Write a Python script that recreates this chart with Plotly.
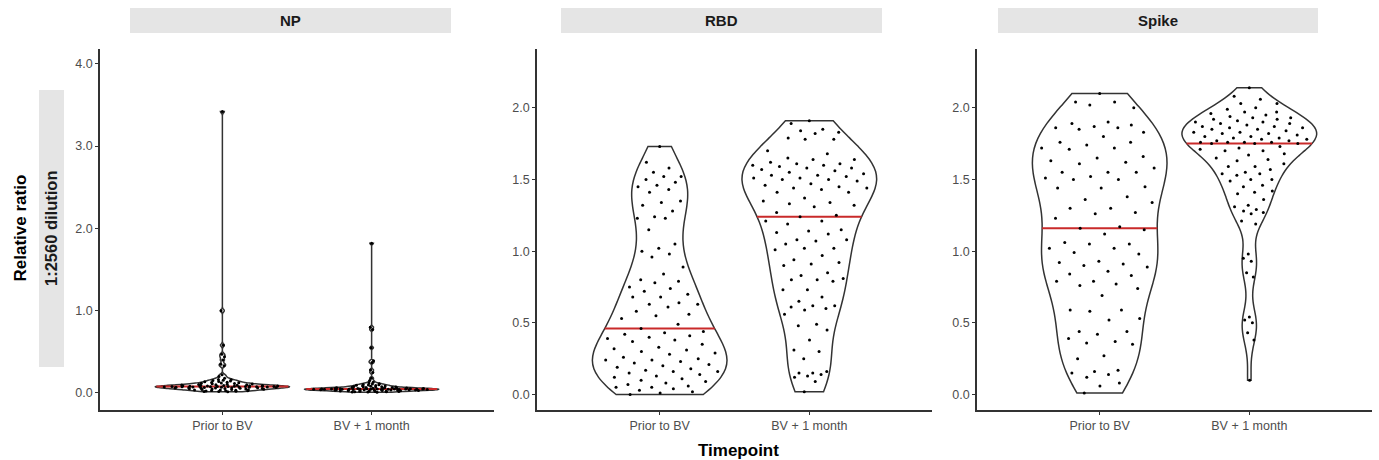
import numpy as np
import plotly.graph_objects as go

W, H = 1379, 460

groups = ["Prior to BV", "BV + 1 month"]
antigens = ["NP", "RBD", "Spike"]

np_prior = [3.42, 1.00, 0.58, 0.47, 0.44, 0.40, 0.35, 0.33, 0.22, 0.20, 0.18, 0.165,
            0.162, 0.156, 0.150, 0.145, 0.140, 0.135, 0.131, 0.127, 0.123, 0.120, 0.117,
            0.114, 0.111, 0.108, 0.106, 0.103, 0.101, 0.099, 0.097, 0.095, 0.093, 0.091,
            0.090, 0.088, 0.087, 0.085, 0.084, 0.083, 0.082, 0.081, 0.080, 0.080,
            0.079, 0.079, 0.078, 0.078, 0.077, 0.076, 0.075, 0.074, 0.073, 0.072, 0.071,
            0.070, 0.069, 0.068, 0.067, 0.066, 0.064, 0.063, 0.062, 0.060, 0.059, 0.057,
            0.056, 0.054, 0.053, 0.051, 0.049, 0.047, 0.045, 0.043, 0.041, 0.039, 0.037,
            0.035, 0.033, 0.031, 0.028, 0.026, 0.024, 0.021, 0.019, 0.017, 0.015]
np_bv = [1.82, 0.80, 0.77, 0.55, 0.39, 0.37, 0.28, 0.25, 0.18, 0.15, 0.13, 0.12,
         0.112, 0.108, 0.104, 0.100, 0.097, 0.094, 0.091, 0.088, 0.085, 0.082, 0.079,
         0.077, 0.075, 0.073, 0.071, 0.069, 0.067, 0.065, 0.064, 0.062, 0.061, 0.060,
         0.058, 0.057, 0.056, 0.055, 0.054, 0.053, 0.052, 0.051, 0.050, 0.049,
         0.049, 0.048, 0.048, 0.048, 0.047, 0.047, 0.047, 0.046, 0.046, 0.045, 0.045,
         0.044, 0.044, 0.043, 0.042, 0.042, 0.041, 0.040, 0.040, 0.039, 0.038, 0.037,
         0.036, 0.035, 0.034, 0.033, 0.032, 0.031, 0.030, 0.029, 0.028, 0.026, 0.025,
         0.024, 0.022, 0.021, 0.019, 0.018, 0.016, 0.015, 0.013, 0.012, 0.010]
rbd_prior = [1.73, 1.62, 1.58, 1.55, 1.52, 1.52, 1.50, 1.48, 1.46, 1.45, 1.43, 1.41,
             1.35, 1.34, 1.32, 1.28, 1.24, 1.23, 1.23, 1.15, 1.05, 1.02, 1.00, 0.98,
             0.96, 0.89, 0.84, 0.80, 0.79, 0.78, 0.75, 0.74, 0.72, 0.70, 0.68, 0.68,
             0.64, 0.63, 0.63, 0.61, 0.58, 0.56, 0.55, 0.53, 0.49, 0.46, 0.44, 0.43,
             0.42, 0.41, 0.40, 0.39, 0.38, 0.37, 0.35, 0.33, 0.32, 0.31, 0.30, 0.29,
             0.28, 0.26, 0.25, 0.24, 0.24, 0.23, 0.22, 0.21, 0.20, 0.19, 0.18, 0.17,
             0.16, 0.16, 0.15, 0.14, 0.13, 0.12, 0.11, 0.10, 0.09, 0.08, 0.07, 0.06,
             0.05, 0.05, 0.04, 0.03, 0.02, 0.01, 0.00]
rbd_bv = [1.91, 1.89, 1.85, 1.84, 1.83, 1.82, 1.79, 1.78, 1.78, 1.70, 1.68, 1.65,
          1.64, 1.64, 1.62, 1.61, 1.61, 1.60, 1.60, 1.59, 1.58, 1.58, 1.57, 1.56,
          1.55, 1.54, 1.53, 1.53, 1.52, 1.51, 1.51, 1.50, 1.50, 1.49, 1.47, 1.46,
          1.45, 1.44, 1.44, 1.43, 1.41, 1.41, 1.37, 1.35, 1.34, 1.33, 1.32, 1.31,
          1.27, 1.25, 1.24, 1.21, 1.21, 1.19, 1.15, 1.14, 1.13, 1.12, 1.08, 1.08,
          1.07, 1.05, 1.02, 1.02, 1.01, 0.97, 0.94, 0.92, 0.91, 0.90, 0.85, 0.83,
          0.81, 0.80, 0.80, 0.79, 0.73, 0.73, 0.68, 0.65, 0.62, 0.62, 0.61, 0.60,
          0.59, 0.56, 0.49, 0.48, 0.45, 0.38, 0.31, 0.30, 0.25, 0.16, 0.15, 0.15,
          0.14, 0.13, 0.12, 0.09, 0.02]
spike_prior = [2.10, 2.04, 2.04, 2.02, 2.00, 1.90, 1.89, 1.88, 1.87, 1.86, 1.86, 1.85,
               1.83, 1.80, 1.76, 1.76, 1.74, 1.72, 1.72, 1.71, 1.66, 1.65, 1.63, 1.62,
               1.61, 1.58, 1.55, 1.55, 1.55, 1.52, 1.51, 1.50, 1.50, 1.45, 1.44, 1.44,
               1.38, 1.36, 1.34, 1.30, 1.30, 1.27, 1.26, 1.23, 1.17, 1.16, 1.15, 1.12,
               1.06, 1.05, 1.05, 1.02, 1.02, 0.99, 0.98, 0.93, 0.92, 0.91, 0.90, 0.89,
               0.86, 0.84, 0.83, 0.79, 0.79, 0.77, 0.76, 0.74, 0.69, 0.59, 0.59, 0.58,
               0.53, 0.52, 0.44, 0.44, 0.42, 0.39, 0.37, 0.36, 0.35, 0.27, 0.25, 0.17,
               0.16, 0.15, 0.14, 0.12, 0.08, 0.06, 0.01]
spike_bv = [2.14, 2.08, 2.06, 2.03, 2.03, 2.00, 1.99, 1.97, 1.97, 1.96, 1.95, 1.94,
            1.93, 1.93, 1.92, 1.92, 1.91, 1.90, 1.90, 1.89, 1.89, 1.88, 1.87, 1.87,
            1.86, 1.86, 1.85, 1.85, 1.84, 1.83, 1.83, 1.82, 1.82, 1.81, 1.80, 1.80,
            1.79, 1.79, 1.78, 1.78, 1.77, 1.77, 1.76, 1.76, 1.76, 1.76, 1.75, 1.75,
            1.75, 1.73, 1.72, 1.71, 1.70, 1.70, 1.68, 1.67, 1.65, 1.64, 1.63, 1.61,
            1.59, 1.59, 1.57, 1.55, 1.54, 1.54, 1.53, 1.50, 1.50, 1.49, 1.46, 1.45,
            1.42, 1.41, 1.40, 1.36, 1.32, 1.31, 1.29, 1.28, 1.27, 1.26, 1.21, 1.19,
            0.98, 0.95, 0.93, 0.85, 0.82, 0.54, 0.52, 0.50, 0.43, 0.38, 0.10]

np_ticks = [0.0, 1.0, 2.0, 3.0, 4.0]
rbd_ticks = [0.0, 0.5, 1.0, 1.5, 2.0]
spike_ticks = [0.0, 0.5, 1.0, 1.5, 2.0]

panels = [
    ("NP", [np_prior, np_bv], np_ticks, [-0.207, 4.18]),
    ("RBD", [rbd_prior, rbd_bv], rbd_ticks, [-0.108, 2.41]),
    ("Spike", [spike_prior, spike_bv], spike_ticks, [-0.108, 2.41]),
]

# layout geometry (pixels)
x_dom_px = [(100, 494), (537, 932), (977, 1372)]
strip_px = [(130, 451), (561, 882), (998, 1318)]
plot_top, plot_bot = 49, 410
xrange_ = [-0.82, 1.82]
BDPOS = 0.45  # half width of each violin (ggplot width 0.9)
PHI = 0.6180339887498949


def px(x):
    return x / W


def py(y):
    return 1 - y / H


def nrd0(v):
    v = np.asarray(v, float)
    sd = v.std(ddof=1)
    q75, q25 = np.percentile(v, [75, 25])
    lo = min(sd, (q75 - q25) / 1.34)
    if lo <= 0:
        lo = sd
    return 0.9 * lo * len(v) ** (-0.2)


def kde(v, bw, t):
    v = np.asarray(v, float)
    t = np.atleast_1d(np.asarray(t, float))
    z = (t[:, None] - v[None, :]) / bw
    return np.exp(-0.5 * z * z).sum(axis=1) / (len(v) * bw * np.sqrt(2 * np.pi))


def violin_stats(v, bw):
    v = np.asarray(v, float)
    lo, hi = v.min(), v.max()
    n = int(np.ceil((hi - lo) / (bw / 3)))
    grid = np.linspace(lo, hi, n + 1)
    maxk = kde(v, bw, grid).max()
    med = float(np.median(v))
    hw_med = BDPOS * float(kde(v, bw, [med])[0]) / maxk
    hw_pts = BDPOS * kde(v, bw, v) / maxk
    return med, hw_med, hw_pts


FONT = "Liberation Sans, Arial, sans-serif"
TICKFONT = dict(family=FONT, size=12.5, color="#4d4d4d")
AXCOL = "#333333"

fig = go.Figure()
layout = dict(
    width=W, height=H, autosize=False,
    margin=dict(l=0, r=0, t=0, b=0, pad=0),
    paper_bgcolor="white", plot_bgcolor="white",
    showlegend=False,
    violinmode="overlay", violingap=0.1, violingroupgap=0,
    shapes=[], annotations=[],
)

for i, (ant, series, ticks, yr) in enumerate(panels):
    k = "" if i == 0 else str(i + 1)
    xa, ya = "x" + k, "y" + k
    stats = []
    for pos, vals in enumerate(series):
        bw = nrd0(vals)
        stats.append(violin_stats(vals, bw))
        fig.add_trace(go.Violin(
            x=[pos] * len(vals), y=vals, xaxis=xa, yaxis=ya,
            name=f"{ant} | {groups[pos]}", orientation="v",
            bandwidth=bw, spanmode="hard", scalemode="width",
            points=False,
            line=dict(color=AXCOL, width=1.5),
            fillcolor="rgba(255,255,255,0)",
            box=dict(visible=False), meanline=dict(visible=False),
            hoverinfo="skip",
        ))
    for pos, vals in enumerate(series):
        med, hw, _ = stats[pos]
        fig.add_trace(go.Scatter(
            x=[pos - hw, pos + hw], y=[med, med], xaxis=xa, yaxis=ya,
            mode="lines", line=dict(color="#c92a2a", width=2),
            hoverinfo="skip",
        ))
    for pos, vals in enumerate(series):
        _, _, hw_pts = stats[pos]
        # sina-style spread: deterministic low-discrepancy offsets within local violin width
        u = np.array([(j * PHI + 0.5) % 1.0 for j in range(len(vals))])
        xs = pos + (2 * u - 1) * 0.9 * hw_pts
        fig.add_trace(go.Scatter(
            x=xs, y=vals, xaxis=xa, yaxis=ya, mode="markers",
            marker=dict(color="black", size=3),
            name=f"{ant} | {groups[pos]} points",
        ))
    x0, x1 = x_dom_px[i]
    layout["xaxis" + k] = dict(
        domain=[px(x0), px(x1)], range=xrange_, anchor=ya,
        tickvals=[0, 1], ticktext=groups, showgrid=False, zeroline=False,
        showline=True, linecolor=AXCOL, linewidth=1.6,
        ticks="outside", ticklen=3, tickwidth=1, tickcolor=AXCOL,
        tickfont=TICKFONT,
    )
    layout["yaxis" + k] = dict(
        domain=[py(plot_bot), py(plot_top)], range=yr, anchor=xa,
        tickvals=ticks, ticktext=[f"{t:.1f}" for t in ticks],
        showgrid=False, zeroline=False,
        showline=True, linecolor=AXCOL, linewidth=1.6,
        ticks="outside", ticklen=3, tickwidth=1, tickcolor=AXCOL,
        tickfont=TICKFONT,
    )
    s0, s1 = strip_px[i]
    layout["shapes"].append(dict(
        type="rect", xref="paper", yref="paper",
        x0=px(s0), x1=px(s1), y0=py(33), y1=py(8),
        fillcolor="#e5e5e5", line=dict(width=0), layer="below",
    ))
    layout["annotations"].append(dict(
        text=f"<b>{ant}</b>", xref="paper", yref="paper",
        x=px((s0 + s1) / 2), y=py(20.5), xanchor="center", yanchor="middle",
        showarrow=False, font=dict(family=FONT, size=15, color="#1a1a1a"),
    ))

# left strip and axis titles
layout["shapes"].append(dict(
    type="rect", xref="paper", yref="paper",
    x0=px(39), x1=px(64), y0=py(367), y1=py(90),
    fillcolor="#e5e5e5", line=dict(width=0), layer="below",
))
layout["annotations"] += [
    dict(text="<b>1:2560 dilution</b>", xref="paper", yref="paper",
         x=px(51.5), y=py(228.5), xanchor="center", yanchor="middle", textangle=-90,
         showarrow=False, font=dict(family=FONT, size=16.5, color="#1a1a1a")),
    dict(text="<b>Relative ratio</b>", xref="paper", yref="paper",
         x=px(20), y=py(228.5), xanchor="center", yanchor="middle", textangle=-90,
         showarrow=False, font=dict(family=FONT, size=17, color="black")),
    dict(text="<b>Timepoint</b>", xref="paper", yref="paper",
         x=px(738), y=py(450), xanchor="center", yanchor="middle",
         showarrow=False, font=dict(family=FONT, size=17, color="black")),
]

fig.update_layout(**layout)
fig.write_html(
    "out.html",
    config={"displayModeBar": False},
    post_script="document.body.style.margin='0px';document.body.style.overflow='hidden';",
)
